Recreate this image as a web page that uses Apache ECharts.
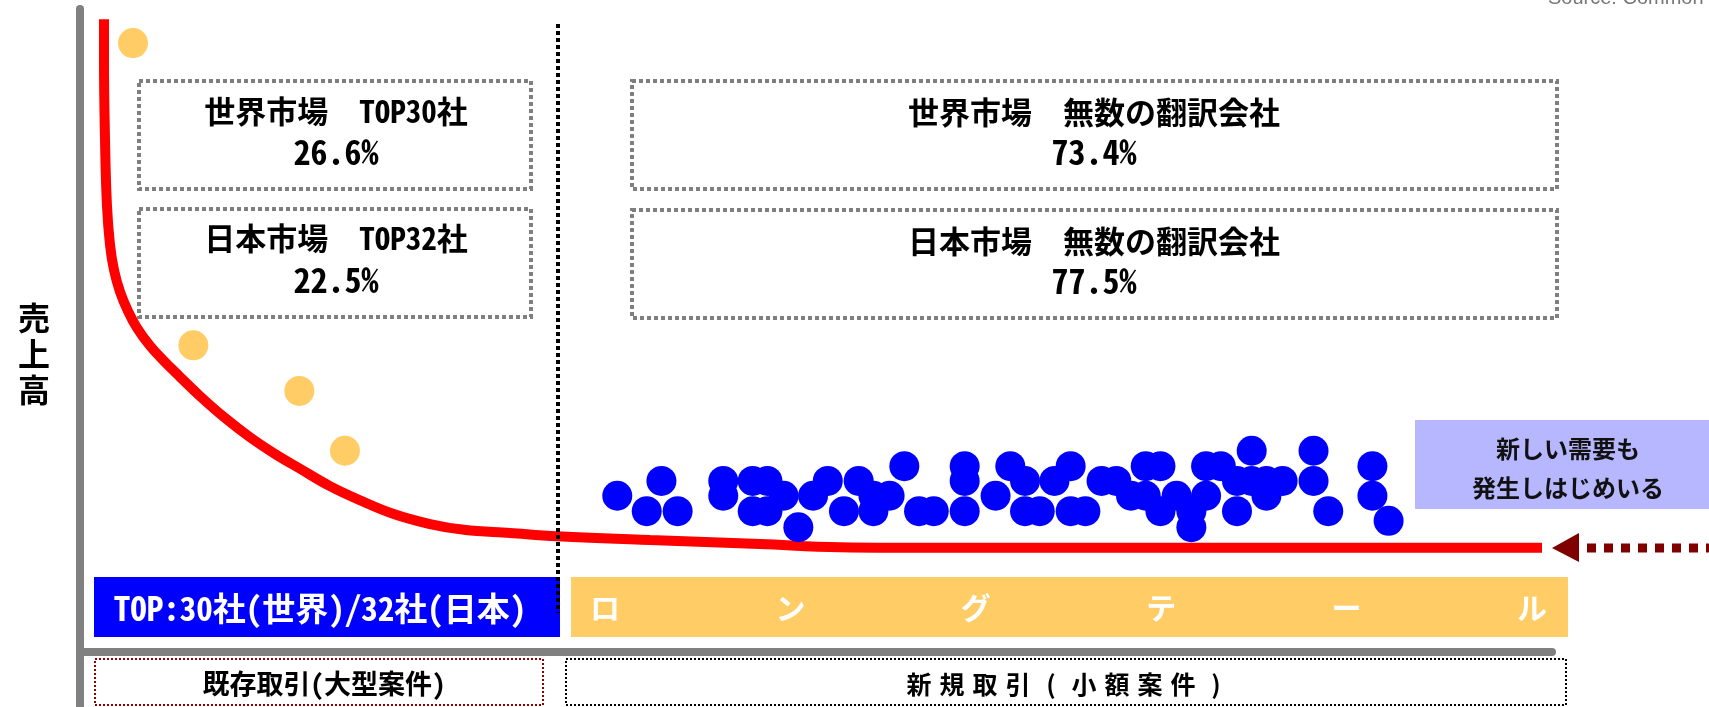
<!DOCTYPE html>
<html>
<head>
<meta charset="utf-8">
<script src="https://cdn.jsdelivr.net/npm/echarts@6/dist/echarts.min.js"></script>
<style>
html,body{margin:0;padding:0;background:#fff;}
#chart{width:1709px;height:707px;}
</style>
</head>
<body>
<div id="chart"></div>
<script>
// ---- data (schematic units: x = company rank 0..100, y = revenue 0..100) ----
const curveX = [1.63, 1.63, 1.70, 1.83, 2.04, 2.31, 2.72, 3.26, 3.87, 4.76, 5.77, 6.79, 8.15, 9.85, 11.55, 13.25,
  14.95, 16.98, 19.02, 21.26, 23.78, 26.09, 29.21, 32.41, 38.72, 46.20, 51.63, 59.10, 69.29, 82.88, 99.32];
const curveY = [98.4, 92.1, 79.6, 69.5, 63.3, 59.4, 56.0, 53.0, 50.4, 47.6, 45.1, 42.8, 39.8, 36.4, 33.4, 30.8,
  28.5, 25.8, 23.6, 21.5, 19.9, 19.0, 18.5, 18.0, 17.4, 16.8, 16.3, 16.2, 16.2, 16.2, 16.2];

const topX = [3.6, 7.7, 14.9, 18.0];
const topY = [94.7, 47.7, 40.6, 31.3];

const tailX = [36.5, 39.5, 38.5, 40.6, 43.7, 43.7, 45.7, 46.7, 45.7, 46.7, 47.8, 48.8, 49.8, 50.8,
  51.9, 52.9, 53.9, 53.9, 55.0, 56.0, 57.0, 58.0, 60.1, 60.1, 60.1, 62.2, 63.2, 64.2, 64.2, 65.2, 66.2, 67.3, 67.3,
  68.3, 69.4, 70.4, 71.4, 72.4, 73.4, 72.4, 73.4, 74.5, 75.5, 75.5, 76.5, 77.5, 76.5, 78.6, 78.6, 79.6, 79.6,
  80.6, 80.6, 81.7, 83.8, 83.8, 84.8, 87.8, 87.8, 88.9];
const tailY = [24.3, 26.6, 21.9, 21.9, 26.6, 24.3, 26.6, 26.6, 21.9, 21.9, 24.3, 19.4, 24.3, 26.6,
  21.9, 26.6, 21.9, 24.3, 24.3, 28.9, 21.9, 21.9, 28.9, 26.6, 21.9, 24.3, 28.9, 26.6, 21.9, 21.9, 26.6, 28.9, 21.9,
  21.9, 26.6, 26.6, 24.3, 28.9, 28.9, 24.3, 21.9, 24.3, 19.4, 21.9, 28.9, 28.9, 24.3, 26.6, 21.9, 31.3, 26.6,
  26.6, 24.3, 26.6, 31.3, 26.6, 21.9, 28.9, 24.3, 20.4];

// ---- texts ----
const yAxisName = '売上高';
const sourceText = 'Source: Common Sense Advisory';
const topBoxTitles = ['世界市場  TOP30社', '日本市場  TOP32社'];
const topBoxValues = ['26.6%', '22.5%'];
const tailBoxTitles = ['世界市場  無数の翻訳会社', '日本市場  無数の翻訳会社'];
const tailBoxValues = ['73.4%', '77.5%'];
const topBandText = 'TOP:30社(世界)/32社(日本)';
const tailBandChars = ['ロ', 'ン', 'グ', 'テ', 'ー', 'ル'];
const bottomLeftText = '既存取引(大型案件)';
const bottomRightChars = ['新', '規', '取', '引', '(', '小', '額', '案', '件', ')'];
const noteLines = ['新しい需要も', '発生しはじめいる'];

const FONT = '"Noto Sans CJK JP", "Noto Sans", sans-serif';
const MONO = '"Noto Sans Mono CJK JP", "Noto Sans CJK JP", sans-serif';

const chart = echarts.init(document.getElementById('chart'), null, {renderer: 'canvas'});

function txt(text, x, y, size, opts) {
  return {
    type: 'text', z: 100,
    style: Object.assign({
      text: text, x: x, y: y, fontSize: size, fontFamily: FONT, fontWeight: 'bold',
      fill: '#000', align: 'center', verticalAlign: 'middle'
    }, opts || {})
  };
}
function dashRect(x, y, w, h, stroke, lw, dash, z) {
  return {type: 'rect', z: z || 50, shape: {x: x, y: y, width: w, height: h},
    style: {fill: 'none', stroke: stroke, lineWidth: lw, lineDash: dash}};
}

const graphics = [];
// source
graphics.push(txt(sourceText, 1548, 8, 20, {align: 'left', verticalAlign: 'bottom', fontWeight: 'normal', fill: '#777', fontFamily: '"Liberation Sans", Arial, sans-serif'}));
// y axis extension below x axis
graphics.push({type: 'rect', z: 40, shape: {x: 76, y: 652, width: 8, height: 55}, style: {fill: '#808080'}});
// y axis name
graphics.push(txt(yAxisName.split('').join('\n'), 34, 354, 32, {lineHeight: 36}));
// boxes
const boxStroke = '#7f7f7f';
graphics.push(dashRect(139, 81, 392, 108, boxStroke, 4, [4, 3]));
graphics.push(dashRect(139, 209, 392, 108, boxStroke, 4, [4, 3]));
graphics.push(dashRect(632, 81, 925, 108, boxStroke, 4, [4, 3]));
graphics.push(dashRect(632, 210, 925, 108, boxStroke, 4, [4, 3]));
graphics.push(txt(topBoxTitles[0], 336, 111, 31, {fontFamily: MONO}));
graphics.push(txt(topBoxValues[0], 336, 152, 34, {fontFamily: MONO}));
graphics.push(txt(topBoxTitles[1], 336, 238, 31, {fontFamily: MONO}));
graphics.push(txt(topBoxValues[1], 336, 280, 34, {fontFamily: MONO}));
graphics.push(txt(tailBoxTitles[0], 1094, 112, 31, {fontFamily: MONO}));
graphics.push(txt(tailBoxValues[0], 1094, 152, 34, {fontFamily: MONO}));
graphics.push(txt(tailBoxTitles[1], 1094, 241, 31, {fontFamily: MONO}));
graphics.push(txt(tailBoxValues[1], 1094, 281, 34, {fontFamily: MONO}));
// bands
graphics.push({type: 'rect', z: 30, shape: {x: 94, y: 577, width: 466, height: 60}, style: {fill: '#0000FF'}});
graphics.push(txt(topBandText, 320, 608, 33, {fill: '#fff', fontFamily: MONO}));
graphics.push({type: 'rect', z: 30, shape: {x: 571, y: 577, width: 997, height: 60}, style: {fill: '#FFCC66'}});
const bandStart = 605, bandEnd = 1532;
tailBandChars.forEach(function (c, i) {
  graphics.push(txt(c, bandStart + (bandEnd - bandStart) * i / (tailBandChars.length - 1), 608, 30, {fill: '#fff'}));
});
// dotted vertical separator
graphics.push({type: 'line', z: 60, shape: {x1: 558, y1: 24, x2: 558, y2: 613}, style: {stroke: '#000', lineWidth: 4, lineDash: [4, 3]}});
// bottom boxes
graphics.push(dashRect(95, 659, 448, 46, '#8B0000', 2, [2, 2]));
graphics.push(txt(bottomLeftText, 324, 684, 27, {fontFamily: MONO}));
graphics.push(dashRect(566, 659, 1000, 46, '#000', 2, [2, 2]));
bottomRightChars.forEach(function (c, i) {
  graphics.push(txt(c, 919 + 33 * i, 684, 25));
});
// note box
graphics.push({type: 'rect', z: 30, shape: {x: 1415, y: 420, width: 300, height: 89}, style: {fill: '#B7B7FF'}});
graphics.push(txt(noteLines[0], 1568, 449, 24, {fill: '#111'}));
graphics.push(txt(noteLines[1], 1568, 488, 24, {fill: '#111'}));
// arrow
graphics.push({type: 'polygon', z: 60, shape: {points: [[1552, 548], [1579, 533], [1579, 562]]}, style: {fill: '#800000'}});
graphics.push({type: 'line', z: 60, shape: {x1: 1587, y1: 548, x2: 1712, y2: 548}, style: {stroke: '#800000', lineWidth: 9, lineDash: [9, 8]}});

const option = {
  backgroundColor: '#fff',
  animation: false,
  grid: {left: 80, top: 9, width: 1472, height: 643, containLabel: false},
  xAxis: {
    type: 'value', min: 0, max: 100,
    axisLine: {show: true, onZero: false, lineStyle: {color: '#808080', width: 8}},
    axisTick: {show: false}, axisLabel: {show: false}, splitLine: {show: false}
  },
  yAxis: {
    type: 'value', min: 0, max: 100,
    axisLine: {show: true, onZero: false, lineStyle: {color: '#808080', width: 8}},
    axisTick: {show: false}, axisLabel: {show: false}, splitLine: {show: false}
  },
  series: [
    {
      type: 'line', name: 'curve', z: 3,
      data: curveX.map(function (x, i) { return [x, curveY[i]]; }),
      smooth: 0.4, symbol: 'none',
      lineStyle: {color: '#FF0000', width: 10}
    },
    {
      type: 'scatter', name: 'top', z: 4,
      data: topX.map(function (x, i) { return [x, topY[i]]; }),
      symbolSize: 30, itemStyle: {color: '#FFCC66', opacity: 1}
    },
    {
      type: 'scatter', name: 'tail', z: 4,
      data: tailX.map(function (x, i) { return [x, tailY[i]]; }),
      symbolSize: 30, itemStyle: {color: '#0000FF', opacity: 1}
    }
  ],
  graphic: graphics
};
chart.setOption(option);
</script>
</body>
</html>
